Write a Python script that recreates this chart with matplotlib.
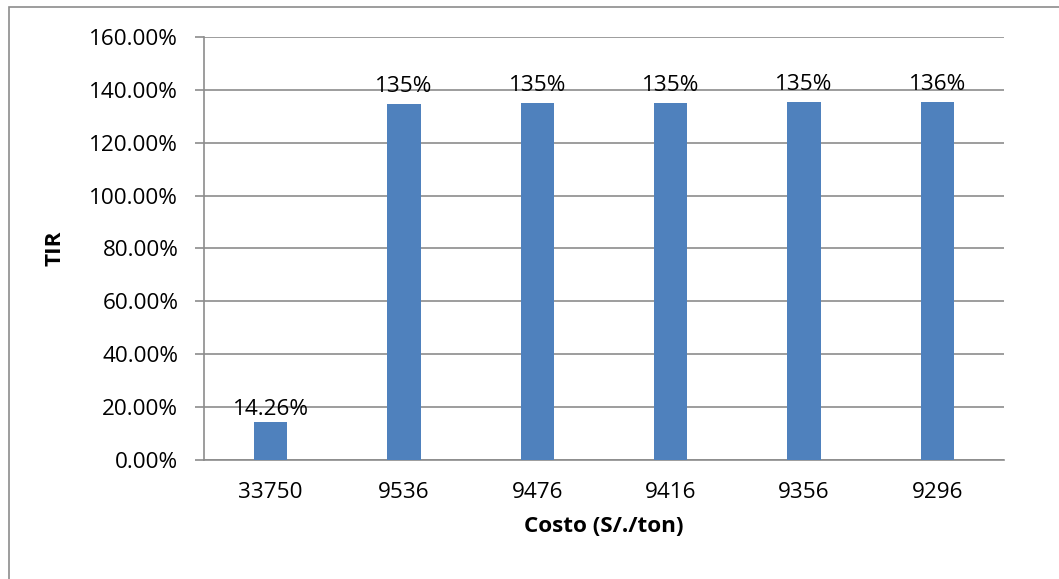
import matplotlib
matplotlib.use("Agg")
import matplotlib.pyplot as plt
from matplotlib.patches import Rectangle
from matplotlib.ticker import FuncFormatter

plt.rcParams['font.family'] = ['Open Sans', 'DejaVu Sans']

# Internal rate of return for each unit cost
costos = ["33750", "9536", "9476", "9416", "9356", "9296"]
tir = [14.26, 134.6, 134.9, 135.1, 135.4, 135.6]
etiquetas = ["14.26%", "135%", "135%", "135%", "135%", "136%"]

FS = 16.2
GRAY = '#8c8c8c'

fig = plt.figure(figsize=(10.59, 5.79), dpi=100)
ax = fig.add_axes([204 / 1059, 1 - 460 / 579, 800 / 1059, 423 / 579])

# chart-area frame
fig.patches.append(Rectangle((9 / 1059, -0.1), 1.2, 1 - 7 / 579 + 0.1,
                             transform=fig.transFigure, fill=False,
                             edgecolor=GRAY, linewidth=1.2))

x = list(range(len(costos)))
ax.bar(x, tir, width=0.25, color='#4F81BD', zorder=3)

for xi, v, lab in zip(x, tir, etiquetas):
    dy = 2 if v < 50 else 5
    ax.annotate(lab, (xi, v), xytext=(0, dy), textcoords='offset points',
                ha='center', va='bottom', fontsize=FS, color='black', zorder=4)

ax.set_xlim(-0.5, len(costos) - 0.5)
ax.set_ylim(0, 160)
ax.set_yticks(range(0, 161, 20))
ax.yaxis.set_major_formatter(FuncFormatter(lambda v, p: f"{v:.2f}%"))
ax.set_xticks(x)
ax.set_xticklabels(costos)

ax.grid(axis='y', color=GRAY, linewidth=1.2, zorder=0)
for s in ['top', 'right']:
    ax.spines[s].set_visible(False)
for s in ['left', 'bottom']:
    ax.spines[s].set_color(GRAY)
    ax.spines[s].set_linewidth(1.2)

ax.tick_params(axis='y', length=6.5, width=1.2, color=GRAY, labelsize=FS, pad=12)
ax.tick_params(axis='x', length=0, labelsize=FS, pad=16)

ax.set_xlabel("Costo (S/./ton)", fontsize=FS, fontweight='bold', labelpad=9)
ax.set_ylabel("TIR", fontsize=FS, fontweight='bold', labelpad=17)

fig.savefig("out.png", dpi=100)
